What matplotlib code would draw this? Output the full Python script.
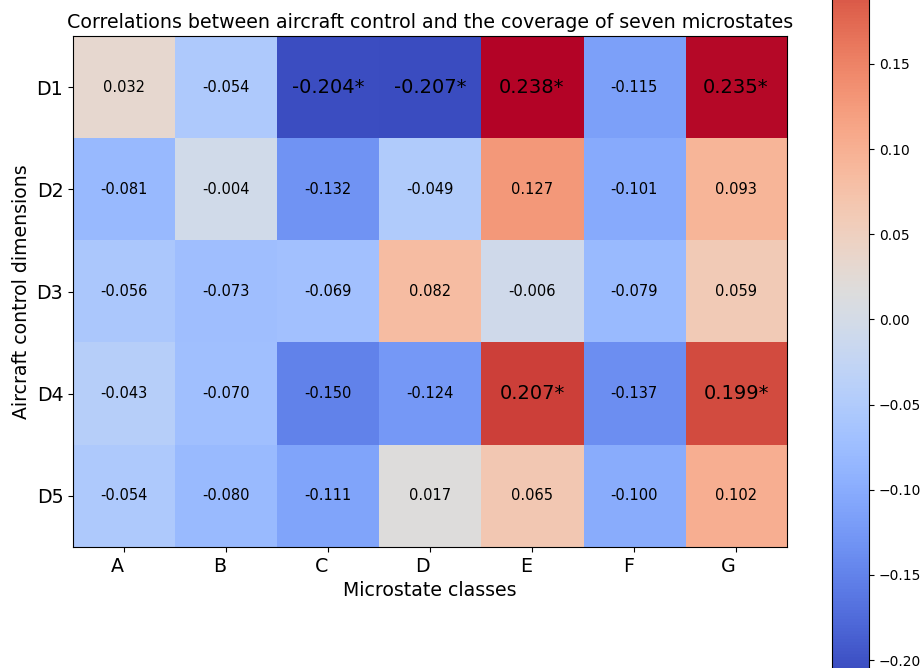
import matplotlib
matplotlib.use("Agg")
import matplotlib.pyplot as plt
import numpy as np

rows = ["D1", "D2", "D3", "D4", "D5"]
cols = ["A", "B", "C", "D", "E", "F", "G"]
d1 = [0.032, -0.054, -0.204, -0.207, 0.238, -0.115, 0.235]
d2 = [-0.081, -0.004, -0.132, -0.049, 0.127, -0.101, 0.093]
d3 = [-0.056, -0.073, -0.069, 0.082, -0.006, -0.079, 0.059]
d4 = [-0.043, -0.070, -0.150, -0.124, 0.207, -0.137, 0.199]
d5 = [-0.054, -0.080, -0.111, 0.017, 0.065, -0.100, 0.102]
sig1 = [0, 0, 1, 1, 1, 0, 1]
sig2 = [0, 0, 0, 0, 0, 0, 0]
sig3 = [0, 0, 0, 0, 0, 0, 0]
sig4 = [0, 0, 0, 0, 1, 0, 1]
sig5 = [0, 0, 0, 0, 0, 0, 0]

data = np.array([d1, d2, d3, d4, d5])
sig = np.array([sig1, sig2, sig3, sig4, sig5])

W, H = 922, 668
fig = plt.figure(figsize=(W / 100, H / 100), dpi=100)
ax = fig.add_axes([73 / W, 1 - 547 / H, 714 / W, 511 / H])
im = ax.imshow(data, cmap="coolwarm", vmin=data.min(), vmax=data.max(), aspect="auto")

for i in range(data.shape[0]):
    for j in range(data.shape[1]):
        if sig[i, j]:
            ax.text(j, i, f"{data[i, j]:.3f}*", ha="center", va="center", fontsize=14, color="black")
        else:
            ax.text(j, i, f"{data[i, j]:.3f}", ha="center", va="center", fontsize=10.5, color="black")

ax.set_xticks(range(len(cols)))
ax.set_xticklabels(cols, fontsize=13.7, ha="right")
ax.set_yticks(range(len(rows)))
ax.set_yticklabels(rows, fontsize=13.7)
ax.set_xlabel("Microstate classes", fontsize=13.6)
ax.set_ylabel("Aircraft control dimensions", fontsize=13.6)
ax.set_title("Correlations between aircraft control and the coverage of seven microstates", fontsize=13.7)

cax = fig.add_axes([832 / W, -4 / H, 37 / W, 758 / H])
cb = fig.colorbar(im, cax=cax)
cb.set_ticks([-0.20, -0.15, -0.10, -0.05, 0.00, 0.05, 0.10, 0.15])
cb.ax.tick_params(labelsize=10)

fig.savefig("out.png", dpi=100)
